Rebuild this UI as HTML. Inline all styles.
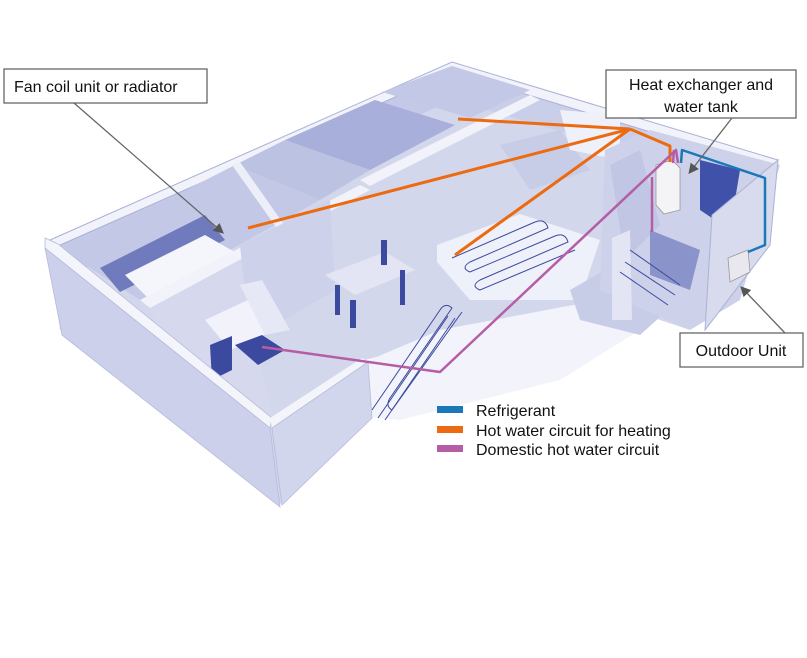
<!DOCTYPE html>
<html><head><meta charset="utf-8"><style>
html,body{margin:0;padding:0;background:#fff;}
svg{display:block;}
text{font-family:"Liberation Sans",sans-serif;fill:#111;}
</style></head><body>
<svg width="807" height="658" viewBox="0 0 807 658" xmlns="http://www.w3.org/2000/svg">
<!-- floor -->
<polygon points="50,240 452,62 778,160 745,250 690,330 600,300 365,360 280,505 60,330" fill="#d3d7ec"/>
<!-- back wall inner faces -->
<polygon points="58,246 452,72 452,100 70,275" fill="#c3c9e6"/>
<polygon points="452,72 770,168 765,190 452,100" fill="#c9cee9"/>
<!-- open floor area right of kitchen (white-ish) -->
<polygon points="365,362 440,330 600,300 640,330 560,380 400,420 370,417" fill="#f3f4fb"/>
<!-- floor heating slab -->
<polygon points="437,245 520,214 600,240 580,300 470,300 437,262" fill="#eef0fa"/>
<polygon points="570,290 640,250 690,290 640,335 580,320" fill="#c8cde7"/>
<!-- back wall top -->
<polygon points="50,240 452,62 778,160 770,168 452,72 58,246" fill="#f1f2fa" stroke="#aab1d6" stroke-width="1"/>
<!-- rooms back -->
<polygon points="285,140 375,100 455,125 370,170" fill="#a7afda"/>
<polygon points="382,92 452,66 530,90 470,118" fill="#c3c8e6"/>
<polygon points="235,165 285,140 370,170 320,200" fill="#bcc2e2"/>
<polygon points="65,252 235,165 320,200 140,300" fill="#c2c8e6"/>
<polygon points="100,268 205,215 225,240 120,292" fill="#6f7bbd"/>
<polygon points="125,275 205,235 240,255 150,300" fill="#f5f6fc"/>
<!-- interior walls -->
<polygon points="232,165 240,162 330,290 322,292" fill="#eceef8"/>
<polygon points="140,300 360,185 370,190 150,308" fill="#f1f2fa"/>
<polygon points="360,180 530,95 540,100 370,186" fill="#f1f2fa"/>
<polygon points="240,245 330,200 335,290 250,340" fill="#cdd1ea"/>
<!-- dining -->
<polygon points="325,275 385,252 415,270 355,295" fill="#e3e5f4"/>
<rect x="335" y="285" width="5" height="30" fill="#3b4a9e"/>
<rect x="400" y="270" width="5" height="35" fill="#3b4a9e"/>
<rect x="381" y="240" width="6" height="25" fill="#3b4a9e"/>
<rect x="350" y="300" width="6" height="28" fill="#3b4a9e"/>
<!-- living -->
<polygon points="500,145 560,130 590,170 530,190" fill="#c8cde7"/>
<polygon points="560,110 620,115 620,160 570,150" fill="#eef0fa"/>
<!-- bathroom block -->
<polygon points="605,150 650,130 780,165 740,300 690,330 600,290" fill="#cdd1ea"/>
<polygon points="700,160 740,170 730,230 700,210" fill="#3f51a8"/>
<polygon points="610,165 640,150 660,225 625,260" fill="#c0c6e4"/>
<polygon points="612,238 630,230 632,320 612,320" fill="#e3e5f4"/>
<polygon points="650,230 700,250 690,290 650,275" fill="#8a94cb"/>
<polygon points="712,215 778,160 770,245 705,330" fill="#d8dbee" stroke="#aab1d6"/>
<!-- tank -->
<polygon points="656,165 672,160 680,168 680,210 664,214 656,205" fill="#f4f4f7" stroke="#999" stroke-width="0.8"/>
<!-- outdoor unit -->
<polygon points="728,258 748,250 750,272 730,282" fill="#e8e8ee" stroke="#999" stroke-width="0.8"/>
<!-- kitchen -->
<polygon points="150,308 240,262 272,418 180,390" fill="#d6d9ee"/>
<polygon points="205,320 248,300 275,330 230,350" fill="#f1f2fa"/>
<polygon points="210,345 232,336 232,370 212,380" fill="#3b4a9e"/>
<polygon points="235,345 262,335 285,350 258,365" fill="#3b4a9e"/>
<polygon points="240,285 262,280 290,330 265,335" fill="#e6e8f5"/>
<!-- front-left wall -->
<polygon points="45,238 58,244 272,418 270,428 45,248" fill="#f4f5fb" stroke="#b5bbdc" stroke-width="0.8"/>
<polygon points="45,248 270,428 280,507 62,335" fill="#ccd0ea" stroke="#b5bbdc" stroke-width="0.8"/>
<!-- kitchen front wall -->
<polygon points="270,418 362,358 368,362 272,428" fill="#f4f5fb"/>
<polygon points="272,428 368,362 372,418 282,505" fill="#d2d6ec" stroke="#b5bbdc" stroke-width="0.8"/>
<!-- floor heating coils -->
<g fill="none" stroke="#3b4a9e" stroke-width="1">
<path d="M452,258 L535,222 Q545,218 548,228 L470,262 Q460,268 470,272 L555,236 Q565,232 568,242 L480,280 Q470,286 480,290 L575,250"/>
<path d="M372,410 L440,310 Q445,302 452,308 L390,398 Q385,406 392,410 L462,312"/>
<path d="M378,418 L448,316 M385,420 L455,318"/>
<path d="M630,250 L680,285 M625,262 L675,295 M620,272 L668,305"/>
</g>
<!-- pipes -->
<g fill="none" stroke-width="3" stroke-linejoin="round">
<polyline points="248,228 630,129" stroke="#ec6a10"/>
<polyline points="458,119 630,129" stroke="#ec6a10"/>
<polyline points="455,255 630,129" stroke="#ec6a10"/>
<polyline points="630,129 670,146 670,162" stroke="#ec6a10"/>
<polyline points="262,347 440,372 676,150 678,163" stroke="#b55da5" stroke-width="2.5"/>
<polyline points="674,150 673,163" stroke="#b55da5" stroke-width="2.5"/>
<polyline points="652,177 652,232" stroke="#b55da5" stroke-width="2.5"/>
<polyline points="681,163 682,150 765,178 765,245 748,252" stroke="#1a78b8" stroke-width="2.5"/>
</g>
<!-- callouts -->
<defs><marker id="a" markerWidth="8" markerHeight="8" refX="6" refY="4" orient="auto"><path d="M0,0 L8,4 L0,8 z" fill="#555"/></marker></defs>
<g stroke="#666" stroke-width="1.3" fill="none">
<line x1="74" y1="103" x2="222" y2="232" marker-end="url(#a)"/>
<line x1="732" y1="118" x2="690" y2="172" marker-end="url(#a)"/>
<line x1="785" y1="333" x2="742" y2="288" marker-end="url(#a)"/>
</g>
<rect x="4" y="69" width="203" height="34" fill="#fff" stroke="#666" stroke-width="1.3"/>
<text x="14" y="92" font-size="16">Fan coil unit or radiator</text>
<rect x="606" y="70" width="190" height="48" fill="#fff" stroke="#666" stroke-width="1.3"/>
<text x="701" y="90" font-size="16" text-anchor="middle">Heat exchanger and</text>
<text x="701" y="112" font-size="16" text-anchor="middle">water tank</text>
<rect x="680" y="333" width="123" height="34" fill="#fff" stroke="#666" stroke-width="1.3"/>
<text x="741" y="356" font-size="16" text-anchor="middle">Outdoor Unit</text>
<!-- legend -->
<rect x="437" y="406" width="26" height="7" fill="#1a78b8"/>
<rect x="437" y="426" width="26" height="7" fill="#ec6a10"/>
<rect x="437" y="445" width="26" height="7" fill="#b55da5"/>
<text x="476" y="416" font-size="16">Refrigerant</text>
<text x="476" y="436" font-size="16">Hot water circuit for heating</text>
<text x="476" y="455" font-size="16">Domestic hot water circuit</text>
</svg>
</body></html>
